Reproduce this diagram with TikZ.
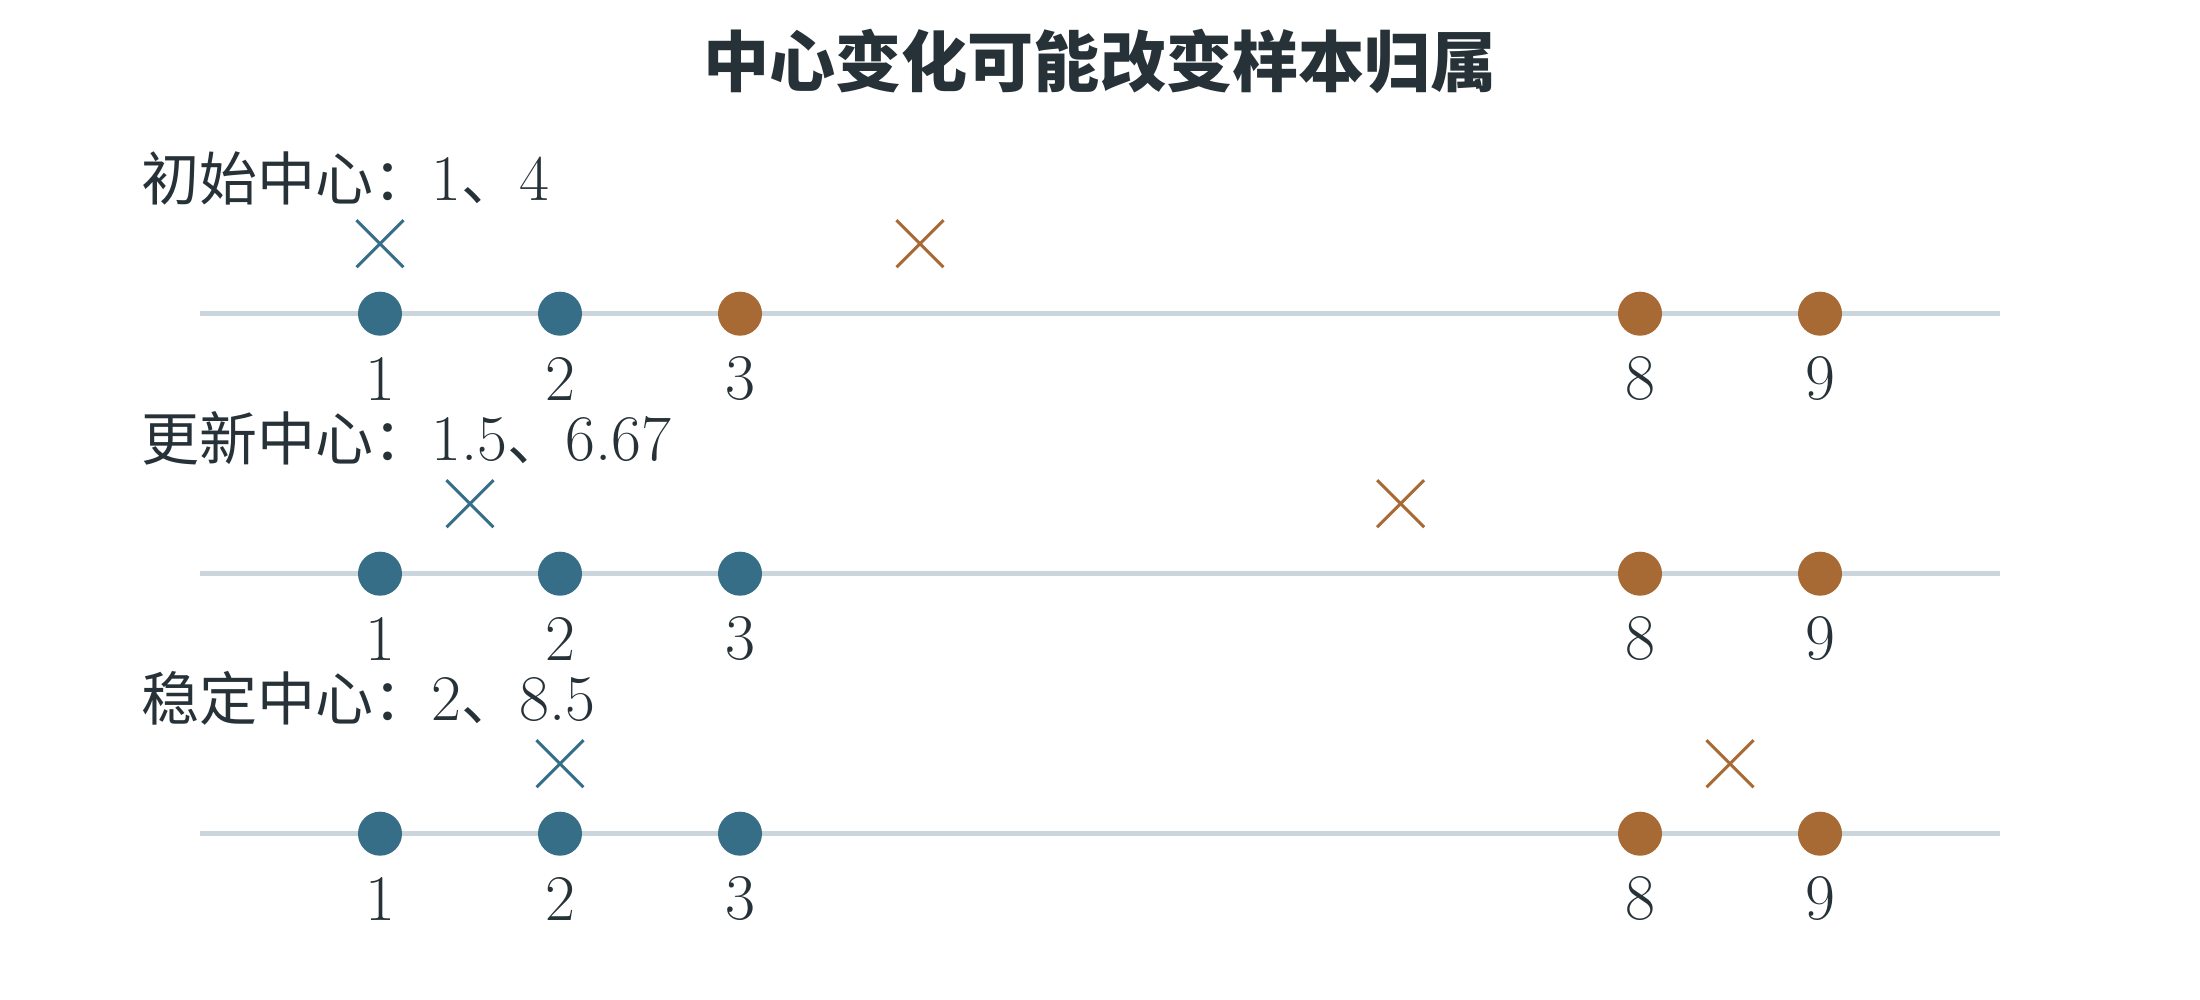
\documentclass[tikz,border=0pt]{standalone}
\usepackage{fontspec}
\newfontfamily\cjk{Noto Sans CJK SC}
\newcommand\zhtxt[1]{{\cjk\fontsize{16.5}{20}\selectfont #1}}
\usetikzlibrary{shapes.misc}
\definecolor{cblue}{HTML}{376E87}
\definecolor{corange}{HTML}{A86A35}
\definecolor{axisgray}{HTML}{CBD5DC}
\definecolor{ink}{HTML}{263238}
\begin{document}
\begin{tikzpicture}[x=0.01cm, y=-0.01cm,
    dot/.style={circle, inner sep=0pt, minimum size=0.44cm},
    ctr/.style={cross out, draw, line width=0.85pt, inner sep=0pt, minimum size=0.44cm},
    num/.style={text=ink, font=\fontsize{18.5}{22}\selectfont},
    lbl/.style={anchor=west, inner sep=0pt, text=ink, font=\fontsize{18.5}{22}\selectfont}]
  \useasboundingbox (0, 0) rectangle (2200, 1000);
  \node[text=ink, font=\cjk\bfseries\fontsize{18.8}{22}\selectfont] (title) at (1100, 61) {中心变化可能改变样本归属};
  % one row per iteration: axis, samples, centres
  \foreach \r/\lab/\cb/\co/\split in {0/{\zhtxt{初始中心：}1\zhtxt{、}4}/1/4/2,
      1/{\zhtxt{更新中心：}1.5\zhtxt{、}6.67}/1.5/6.67/3,
      2/{\zhtxt{稳定中心：}2\zhtxt{、}8.5}/2/8.5/3} {
    \pgfmathsetmacro\y{313.7+260*\r}
    \coordinate (a\r) at (200, \y);
    \coordinate (b\r) at (2000, \y);
    \draw[axisgray, line width=0.045cm] (a\r) -- (b\r);
    \node[lbl] (lab\r) at (141, {\y-135}) {\lab};
    \foreach \v in {1, 2, 3, 8, 9} {
      \ifnum\v>\split \def\col{corange}\else \def\col{cblue}\fi
      \node[dot, fill=\col] (p\r-\v) at ({200+180*\v}, \y) {};
      \node[num] (n\r-\v) at ({200+180*\v}, {\y+65}) {\v};
    }
    \node[ctr, cblue] (cb\r) at ({200+180*\cb}, {\y-70}) {};
    \node[ctr, corange] (co\r) at ({200+180*\co}, {\y-70}) {};
  }
\end{tikzpicture}
\end{document}
